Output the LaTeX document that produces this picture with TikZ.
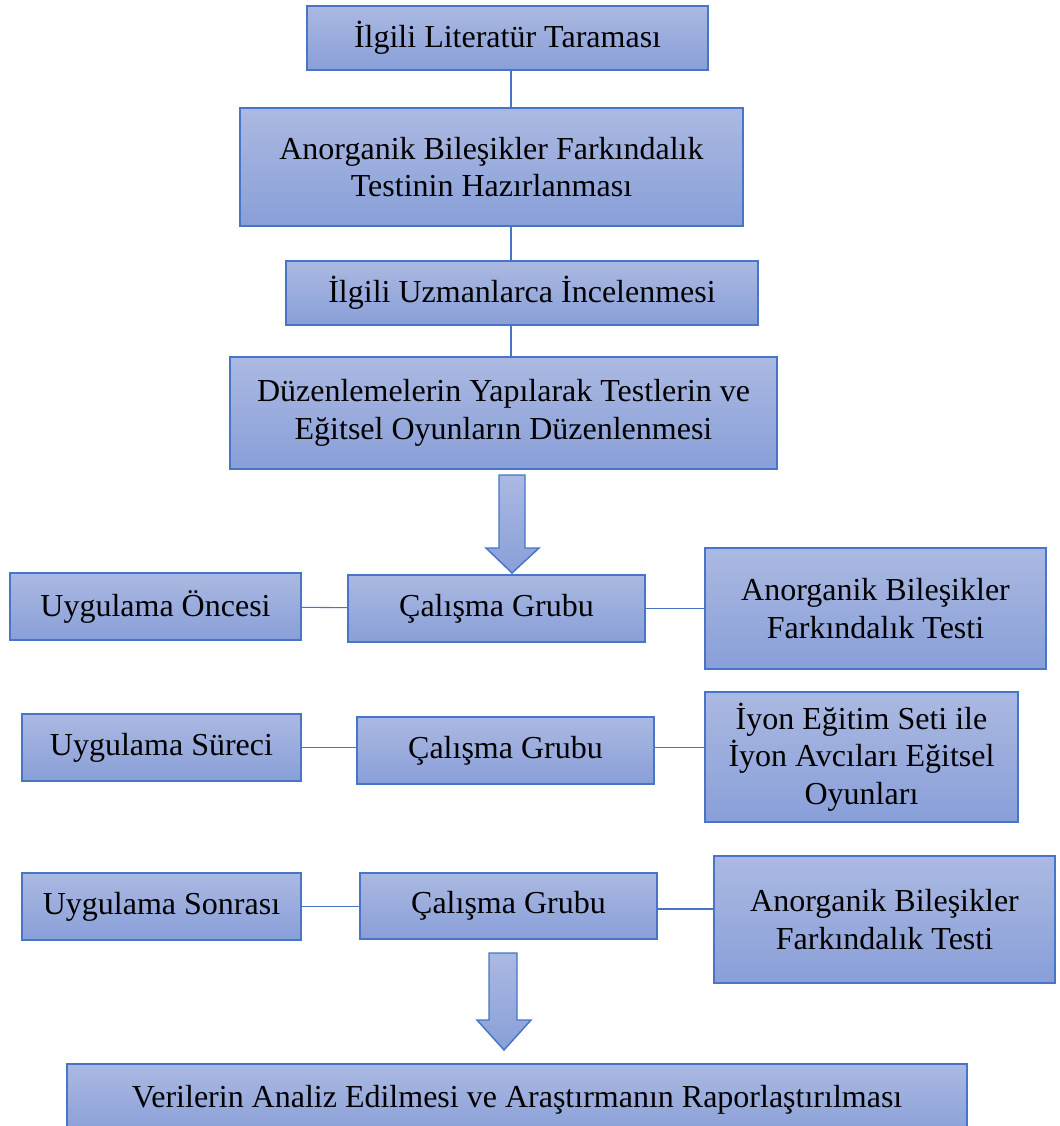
\documentclass[tikz,border=0pt]{standalone}
\usepackage{fontspec}
\setmainfont{Liberation Serif}
\usetikzlibrary{positioning}
\usetikzlibrary{calc}
\definecolor{boxtop}{RGB}{171,185,226}
\definecolor{boxbot}{RGB}{137,159,216}
\definecolor{boxline}{RGB}{72,117,198}
\begin{document}
\begin{tikzpicture}[x=0.75pt, y=-0.75pt, bluebox/.style={rectangle, draw=boxline, line width=1.1pt, top color=boxtop, bottom color=boxbot, align=center, inner sep=0pt, font=\fontsize{24}{28}\selectfont}, link/.style={draw=boxline, line width=0.8pt}, bigarrow/.style={draw=boxline, line width=1.1pt, top color=boxtop, bottom color=boxbot}]
	\useasboundingbox (0,0) rectangle (1059,1126);
	\coordinate (axis) at (511,0);
	\node[bluebox, minimum width=401*0.75pt, minimum height=64*0.75pt] (lit) at (507.5,38) {İlgili Literatür Taraması};
	\node[bluebox, minimum width=503*0.75pt, minimum height=118*0.75pt] (hazir) at (491.5,167) {Anorganik Bileşikler Farkındalık\\Testinin Hazırlanması};
	\node[bluebox, minimum width=472*0.75pt, minimum height=64*0.75pt] (uzman) at (522,293) {İlgili Uzmanlarca İncelenmesi};
	\node[bluebox, minimum width=547*0.75pt, minimum height=112*0.75pt] (duzen) at (503.5,413) {Düzenlemelerin Yapılarak Testlerin ve\\Eğitsel Oyunların Düzenlenmesi};
	% oncesi
	\node[bluebox, minimum width=291*0.75pt, minimum height=67*0.75pt] (once) at (155.5,606.5) {Uygulama Öncesi};
	\node[bluebox, minimum width=297*0.75pt, minimum height=67*0.75pt] (grup1) at (496.5,608.5) {Çalışma Grubu};
	\node[bluebox, minimum width=341*0.75pt, minimum height=121*0.75pt] (test1) at (875.5,608.5) {Anorganik Bileşikler\\Farkındalık Testi};
	% sureci
	\node[bluebox, minimum width=279*0.75pt, minimum height=67*0.75pt] (surec) at (161.5,747.5) {Uygulama Süreci};
	\node[bluebox, minimum width=297*0.75pt, minimum height=67*0.75pt] (grup2) at (505.5,750.5) {Çalışma Grubu};
	\node[bluebox, minimum width=313*0.75pt, minimum height=130*0.75pt] (set) at (861.5,757) {İyon Eğitim Seti ile\\İyon Avcıları Eğitsel\\Oyunları};
	% sonrasi
	\node[bluebox, minimum width=279*0.75pt, minimum height=67*0.75pt] (sonra) at (161.5,906.5) {Uygulama Sonrası};
	\node[bluebox, minimum width=297*0.75pt, minimum height=66*0.75pt] (grup3) at (508.5,906) {Çalışma Grubu};
	\node[bluebox, minimum width=341*0.75pt, minimum height=127*0.75pt] (test3) at (884.5,919.5) {Anorganik Bileşikler\\Farkındalık Testi};
	\node[bluebox, minimum width=900*0.75pt, minimum height=72*0.75pt] (rapor) at (517,1100) {Verilerin Analiz Edilmesi ve Araştırmanın Raporlaştırılması};
	\draw[link] (lit.south -| axis) -- (hazir.north -| axis);
	\draw[link] (hazir.south -| axis) -- (uzman.north -| axis);
	\draw[link] (uzman.south -| axis) -- (duzen.north -| axis);
	\draw[link] (once) -- (grup1);
	\draw[link] (grup1) -- (test1);
	\draw[link] (surec.east) -- (surec.east -| grup2.west);
	\draw[link] (grup2.east |- surec.east) -- (surec.east -| set.west);
	\draw[link] (sonra.east) -- (sonra.east -| grup3.west);
	\draw[link] ($(grup3.east)+(0,3)$) -- ($(grup3.east -| test3.west)+(0,3)$);
	\draw[bigarrow] (499,475) -- (525,475) -- (525,548) -- (539,548) -- (512,573) -- (486,548) -- (499,548) -- cycle;
	\draw[bigarrow] (489,953) -- (517,953) -- (517,1020) -- (531,1020) -- (504,1050) -- (477,1020) -- (489,1020) -- cycle;
\end{tikzpicture}
\end{document}
